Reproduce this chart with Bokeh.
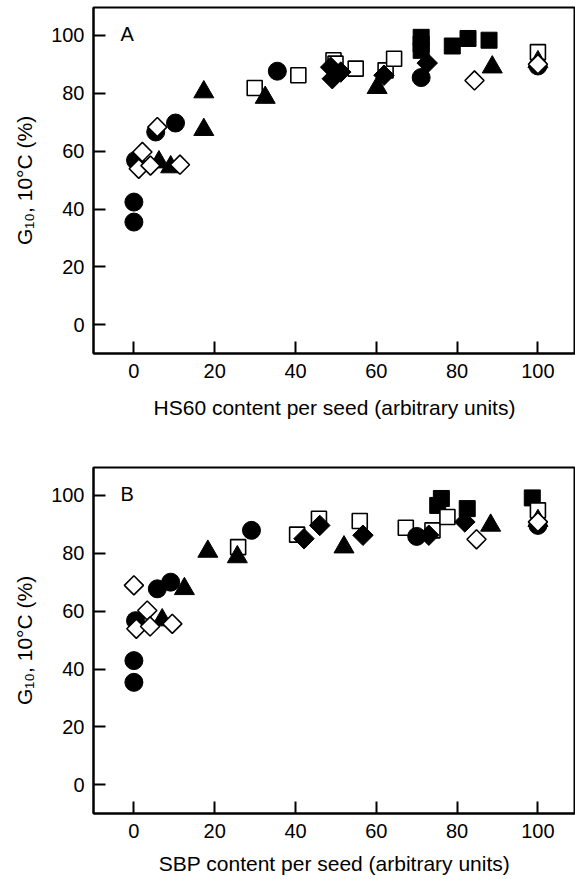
from bokeh.plotting import figure
from bokeh.layouts import column
from bokeh.models import FixedTicker, Label, Range1d
from bokeh.embed import file_html
from bokeh.resources import INLINE

# ---------------- Panel A: HS60 content per seed ----------------
a_circle_x = [0, 0, 0.4, 5.4, 10.3, 35.5, 71.1, 100]
a_circle_y = [42.4, 35.5, 56.8, 66.6, 69.7, 87.6, 85.4, 89.4]
a_odiam_x = [1.2, 2.1, 4.1, 5.8, 11.4, 84.3, 100]
a_odiam_y = [53.9, 59.7, 55.0, 68.3, 55.3, 84.4, 90.0]
a_tri_x = [6.2, 9.1, 17.3, 17.3, 32.5, 60.2, 88.7, 100]
a_tri_y = [56.2, 54.5, 67.4, 80.4, 78.5, 81.9, 89.0, 90.8]
a_osq_x = [29.9, 40.7, 49.4, 49.9, 54.9, 62.3, 64.4, 100]
a_osq_y = [81.8, 86.2, 91.4, 90.2, 88.5, 87.9, 91.9, 94.2]
a_fdiam_x = [48.7, 49.1, 51.2, 61.9, 72.6]
a_fdiam_y = [89.0, 85.0, 87.3, 86.2, 90.4]
a_fsq_x = [71.1, 71.1, 71.1, 78.8, 82.7, 87.9]
a_fsq_y = [99.3, 97.0, 94.8, 96.3, 98.9, 98.3]

# ---------------- Panel B: SBP content per seed ----------------
b_circle_x = [0, 0, 0.4, 5.8, 9.1, 29.1, 70.0, 100]
b_circle_y = [42.9, 35.4, 56.7, 67.7, 70.0, 87.9, 85.8, 89.6]
b_odiam_x = [0, 3.3, 0.6, 4.0, 9.5, 84.8, 100]
b_odiam_y = [68.9, 60.2, 53.9, 54.7, 55.6, 84.8, 90.8]
b_tri_x = [7.0, 12.5, 18.3, 25.6, 52.0, 88.3, 100]
b_tri_y = [56.9, 67.7, 80.6, 78.7, 82.1, 89.6, 91.2]
b_osq_x = [25.8, 40.4, 45.8, 55.9, 67.3, 73.9, 77.6, 100]
b_osq_y = [82.1, 86.4, 91.9, 91.1, 88.8, 87.9, 92.5, 94.8]
b_fdiam_x = [42.1, 46.0, 56.7, 73.0, 81.9]
b_fdiam_y = [85.0, 89.6, 86.2, 86.2, 90.8]
b_fsq_x = [76.1, 75.2, 82.5, 98.6]
b_fsq_y = [98.9, 96.5, 95.4, 99.1]

ticks = [0, 20, 40, 60, 80, 100]
y_label = "G\u2081\u2080, 10\u00b0C (%)"

FONT = "Liberation Sans"


def make_panel(letter, xlabel, data, height, top, bottom, lab_standoff):
    p = figure(width=575, height=height,
               x_range=Range1d(-10, 109.3), y_range=Range1d(-9.9, 109.6),
               output_backend="svg", toolbar_location=None,
               min_border_left=93, min_border_right=0,
               min_border_top=top, min_border_bottom=bottom)
    p.grid.visible = False
    p.outline_line_color = "black"
    p.outline_line_width = 2
    p.background_fill_color = "white"
    p.border_fill_color = "white"
    for ax in (p.xaxis[0], p.yaxis[0]):
        ax.ticker = FixedTicker(ticks=ticks)
        ax.minor_tick_line_color = None
        ax.major_tick_in = 12
        ax.major_tick_out = 0
        ax.major_tick_line_width = 2
        ax.major_tick_line_color = "black"
        ax.axis_line_width = 2
        ax.axis_line_color = "black"
        ax.major_label_text_font = FONT
        ax.major_label_text_font_size = "20px"
        ax.major_label_text_color = "black"
        ax.axis_label_text_font = FONT
        ax.axis_label_text_font_size = "21px"
        ax.axis_label_text_font_style = "normal"
        ax.axis_label_text_color = "black"
    p.xaxis.axis_label = xlabel
    p.yaxis.axis_label = y_label
    p.xaxis.major_label_standoff = 10
    p.xaxis.axis_label_standoff = lab_standoff
    p.yaxis.major_label_standoff = 9
    p.yaxis.axis_label_standoff = 12

    (fsq_x, fsq_y, osq_x, osq_y, fd_x, fd_y, tr_x, tr_y,
     c_x, c_y, od_x, od_y) = data
    p.scatter(fsq_x, fsq_y, marker="square", size=16,
              fill_color="black", line_color="black", line_width=1)
    p.scatter(osq_x, osq_y, marker="square", size=15,
              fill_color="white", line_color="black", line_width=1.6)
    p.scatter(fd_x, fd_y, marker="square", size=14.5, angle=0.785398,
              fill_color="black", line_color="black", line_width=1)
    p.scatter(tr_x, tr_y, marker="triangle", size=20,
              fill_color="black", line_color="black", line_width=1)
    p.scatter(c_x, c_y, marker="circle", size=18,
              fill_color="black", line_color="black", line_width=1)
    p.scatter(od_x, od_y, marker="square", size=13.5, angle=0.785398,
              fill_color="white", line_color="black", line_width=1.6)

    lab = Label(x=27, y=height - top - bottom - 26, x_units="screen", y_units="screen",
                text=letter, text_font=FONT, text_font_size="20px",
                text_color="black", text_baseline="alphabetic")
    p.add_layout(lab)
    return p


pa = make_panel("A", "HS60 content per seed (arbitrary units)",
                (a_fsq_x, a_fsq_y, a_osq_x, a_osq_y, a_fdiam_x, a_fdiam_y,
                 a_tri_x, a_tri_y, a_circle_x, a_circle_y, a_odiam_x, a_odiam_y),
                440, 7, 87, 15)
pb = make_panel("B", "SBP content per seed (arbitrary units)",
                (b_fsq_x, b_fsq_y, b_osq_x, b_osq_y, b_fdiam_x, b_fdiam_y,
                 b_tri_x, b_tri_y, b_circle_x, b_circle_y, b_odiam_x, b_odiam_y),
                439, 27, 66, 11)

layout = column(pa, pb, spacing=0)
open("out.html", "w").write(file_html(layout, INLINE))
